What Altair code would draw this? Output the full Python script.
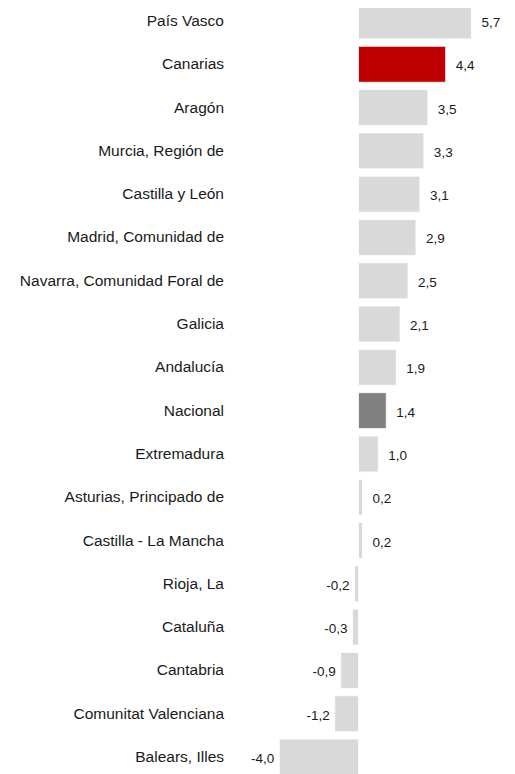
import altair as alt
import pandas as pd

regions = ["País Vasco", "Canarias", "Aragón", "Murcia, Región de", "Castilla y León",
           "Madrid, Comunidad de", "Navarra, Comunidad Foral de", "Galicia", "Andalucía",
           "Nacional", "Extremadura", "Asturias, Principado de", "Castilla - La Mancha",
           "Rioja, La", "Cataluña", "Cantabria", "Comunitat Valenciana", "Balears, Illes"]
values = [5.7, 4.4, 3.5, 3.3, 3.1, 2.9, 2.5, 2.1, 1.9, 1.4, 1.0, 0.2, 0.2,
          -0.2, -0.3, -0.9, -1.2, -4.0]
groups = ["other", "highlight", "other", "other", "other", "other", "other", "other", "other",
          "national", "other", "other", "other", "other", "other", "other", "other", "other"]

df = pd.DataFrame({"region": regions, "value": values, "group": groups})
df["label"] = df["value"].map(lambda v: f"{v:.1f}".replace(".", ","))

FONT = "Liberation Sans"

y = alt.Y("region:N", sort=regions, axis=None,
          scale=alt.Scale(range=[-5, 767], paddingInner=0.17, paddingOuter=0))
xs = alt.Scale(domain=[-4.0, 5.7], range=[271.3, 463.4])

base = alt.Chart(df)

bars = base.mark_bar(stroke="white", strokeWidth=0.8).encode(
    x=alt.X("value:Q", scale=xs, axis=None),
    x2=alt.datum(0),
    y=y,
    color=alt.Color("group:N",
                    scale=alt.Scale(domain=["other", "highlight", "national"],
                                    range=["#D9D9D9", "#C00000", "#808080"]),
                    legend=None),
)

pos_labels = base.transform_filter("datum.value >= 0").mark_text(
    align="left", baseline="middle", dx=10, dy=2, font=FONT, fontSize=13.5, color="#1a1a1a"
).encode(x=alt.X("value:Q", scale=xs), y=y, text="label:N")

neg_labels = base.transform_filter("datum.value < 0").mark_text(
    align="right", baseline="middle", dx=-5, dy=2, font=FONT, fontSize=13.5, color="#1a1a1a"
).encode(x=alt.X("value:Q", scale=xs), y=y, text="label:N")

cat_labels = base.mark_text(
    align="right", baseline="middle", font=FONT, fontSize=15.5, color="#1a1a1a"
).encode(x=alt.value(216), y=y, text="region:N")

chart = alt.layer(bars, pos_labels, neg_labels, cat_labels).properties(
    width=499, height=766, autosize=alt.AutoSizeParams(type="none"), padding=0
).configure(background="white", view=alt.ViewConfig(stroke=None))

chart.save("out.html", embed_options={"renderer": "svg", "actions": False})
